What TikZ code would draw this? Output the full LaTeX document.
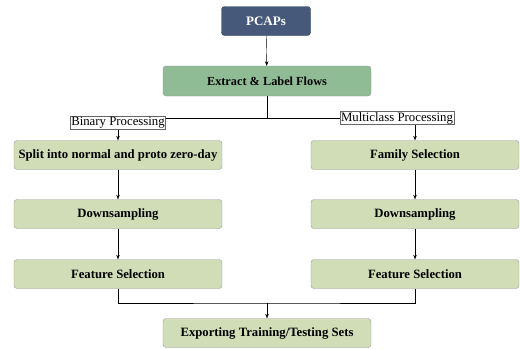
\documentclass[tikz,border=0pt]{standalone}
\usepackage{fontspec}
\setmainfont{Liberation Serif}
\usepackage{xcolor}
\usepackage{tikz}
\usetikzlibrary{arrows.meta}

\definecolor{pcapblue}{HTML}{46597A}
\definecolor{flowgreen}{HTML}{8FBC94}
\definecolor{stepgreen}{HTML}{D1DDB6}
\definecolor{boxline}{HTML}{9A9A9A}

\begin{document}
\begin{tikzpicture}[x=1pt, y=-1pt, >={Stealth[length=4.5pt,width=3.5pt]},
    stepbox/.style={draw=boxline, fill=stepgreen, rounded corners=3pt, minimum width=208pt, minimum height=29pt,
                    align=center, font=\fontsize{12.7}{14}\selectfont\bfseries},
    tag/.style={draw=black!60, fill=white, inner sep=0.8pt, font=\fontsize{12.8}{14}\selectfont}]
      \useasboundingbox (0,0) rectangle (520,349);

      \node[draw=pcapblue!70!black, fill=pcapblue, rounded corners=3pt, minimum width=89pt, minimum height=29pt,
            text=white, font=\fontsize{13}{15}\selectfont\bfseries]  (PC)  at (266, 21)  {PCAPs};
      \node[stepbox, fill=flowgreen, font=\fontsize{12.3}{15}\selectfont\bfseries, minimum height=30pt]
                                                                    (EX)  at (267, 81)  {Extract \& Label Flows};

      \node[tag]      (BIN)  at (118, 123)   {Binary Processing};
      \node[tag]      (MC)   at (397, 118)   {Multiclass Processing};

      \node[stepbox]  (SP)   at (118, 155)   {Split into normal and proto zero-day};
      \node[stepbox]  (FAM)  at (415, 155)   {Family Selection};
      \node[stepbox]  (DS1)  at (118, 214)   {Downsampling};
      \node[stepbox]  (DS2)  at (415, 214)   {Downsampling};
      \node[stepbox]  (FS1)  at (118, 274)   {Feature Selection};
      \node[stepbox]  (FS2)  at (415, 274)   {Feature Selection};
      \node[stepbox]  (EXP)  at (267, 333)   {Exporting Training/Testing Sets};

      \coordinate (fork)  at (267, 118);
      \coordinate (merge) at (267, 303);

      \draw[->] (PC) -- (EX);

      \draw[-]  (EX) -- (fork);
      \draw[-]  (BIN.east |- fork) -- (MC.west);
      \draw[->] (BIN) -- (SP);
      \draw[->] (MC.south -| FAM) -- (FAM);

      \draw[->] (SP) -- (DS1);
      \draw[->] (DS1) -- (FS1);
      \draw[->] (FAM) -- (DS2);
      \draw[->] (DS2) -- (FS2);

      \draw[-]  (FS1) |- (merge) -| (FS2);
      \draw[->] (merge) -- (EXP);
    \end{tikzpicture}
\end{document}
